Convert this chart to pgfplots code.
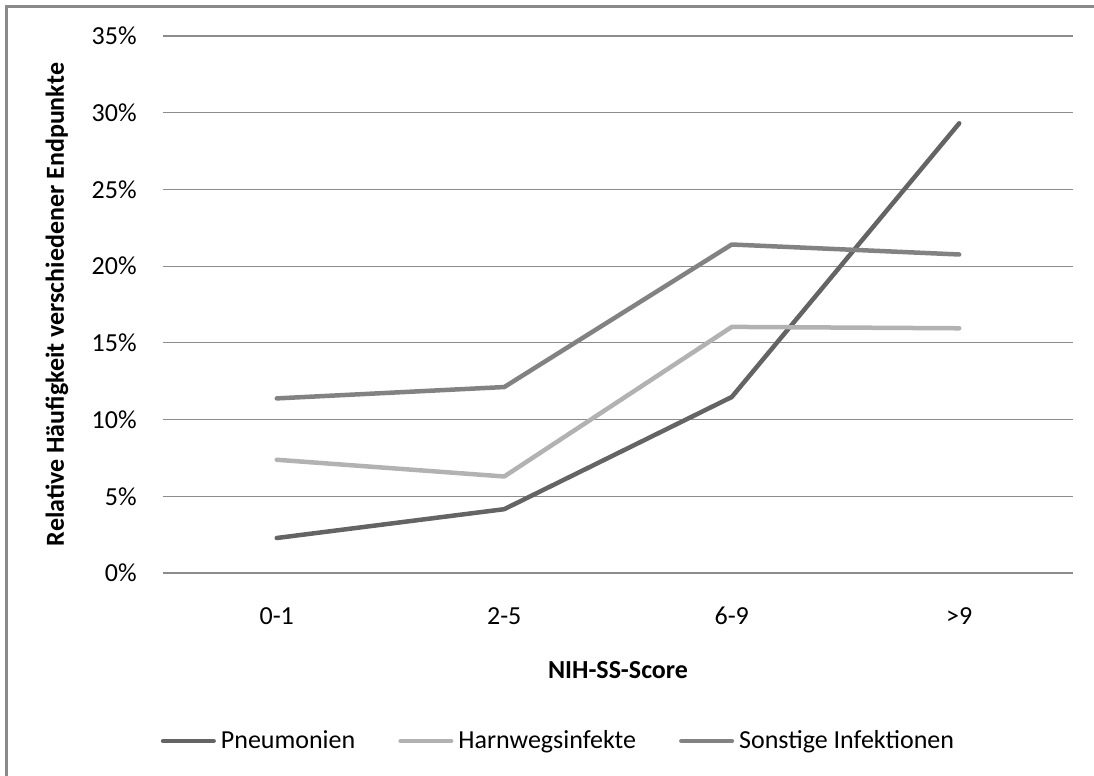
\documentclass[border=0pt]{standalone}
\usepackage{fontspec}
\setmainfont{Carlito}
\usepackage{pgfplots}
\pgfplotsset{compat=1.18}
\definecolor{cPneu}{HTML}{646464}
\definecolor{cHarn}{HTML}{B2B2B2}
\definecolor{cSons}{HTML}{828282}
\definecolor{cGrid}{HTML}{8C8C8C}
\definecolor{cFrame}{HTML}{8A8A8A}
\begin{document}
\begin{tikzpicture}[font=\fontsize{13}{15.6}\selectfont]
\useasboundingbox (-81.5pt,-101.5pt) rectangle (465.5pt,286.5pt);
\draw[cFrame, line width=1.25pt] (-78.15pt,-105pt) -- (-78.15pt,283.15pt) -- (470pt,283.15pt);
\begin{axis}[
  at={(0pt,0pt)}, anchor=south west,
  scale only axis,
  width=455pt, height=268.5pt,
  xmin=-0.5, xmax=3.5,
  ymin=0, ymax=35,
  xtick={0,1,2,3},
  xticklabels={0-1,2-5,6-9,>9},
  ytick={0,5,10,15,20,25,30,35},
  yticklabels={0\%,5\%,10\%,15\%,20\%,25\%,30\%,35\%},
  axis line style={draw=none},
  tick style={draw=none},
  major tick length=0pt,
  ymajorgrids,
  grid style={cGrid, line width=0.6pt},
  yticklabel style={inner sep=0pt, anchor=east, xshift=-13pt},
  xticklabel style={inner sep=0pt, anchor=center, yshift=-21.5pt},
  xlabel={\textbf{NIH-SS-Score}},
  ylabel={\textbf{Relative Häufigkeit verschiedener Endpunkte}},
  x label style={at={(axis description cs:0.5,-0.1806)}, anchor=center, inner sep=0pt},
  y label style={at={(axis description cs:-0.1165,0.5)}, anchor=center, inner sep=0pt},
  legend columns=3,
  legend style={draw=none, fill=none, at={(axis description cs:0.4335,-0.3128)}, anchor=center,
    nodes={inner sep=0pt},
    /tikz/every odd column/.append style={column sep=2.5pt},
    /tikz/every even column/.append style={column sep=21.5pt}},
  legend cell align=left,
  legend image code/.code={\draw[#1, line cap=round] (1.1pt,0pt) -- (26.4pt,0pt);},
  every axis plot/.append style={line width=2.25pt, line cap=round, line join=round, mark=none},
]
\addplot[cPneu] coordinates {(0,2.28) (1,4.16) (2,11.47) (3,29.31)};
\addlegendentry{Pneumonien}
\addplot[cHarn] coordinates {(0,7.38) (1,6.29) (2,16.04) (3,15.95)};
\addlegendentry{Harnwegsinfekte}
\addplot[cSons] coordinates {(0,11.38) (1,12.12) (2,21.41) (3,20.76)};
\addlegendentry{Sonstige Infektionen}
\end{axis}
\end{tikzpicture}
\end{document}
